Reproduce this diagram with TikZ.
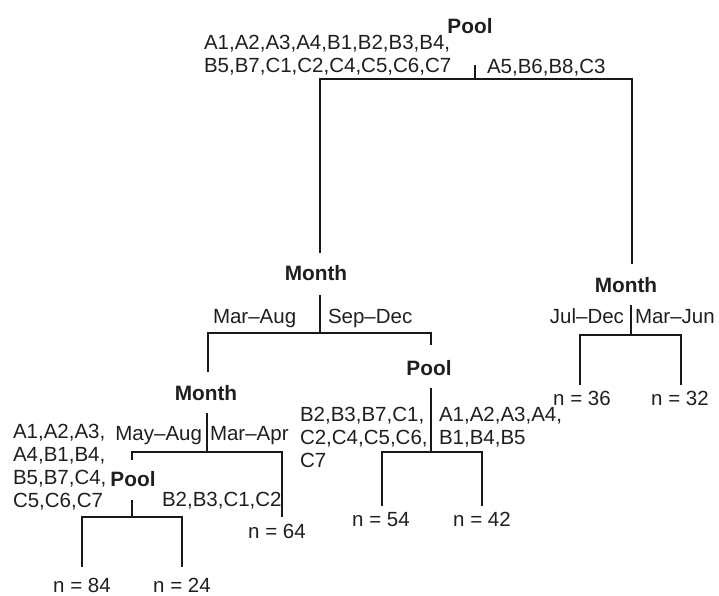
\documentclass[tikz,border=0pt]{standalone}
\usepackage{fontspec}
\setmainfont{Liberation Sans}
\begin{document}
\begin{tikzpicture}[x=1pt,y=-1pt,
  txt/.style={inner sep=0pt,outer sep=0pt,font=\fontsize{20.5}{23}\selectfont,text=black!88},
  bold/.style={txt,font=\fontsize{20.8}{23}\selectfont\bfseries},
  multi/.style={txt,align=left,anchor=north west},
  tree/.style={line width=2.7pt,black!90,line join=miter}]
\useasboundingbox (0,0) rectangle (719,595);

% ---------- root split: Pool ----------
\node[bold,anchor=base] (pool0) at (470,33) {Pool};
\node[multi] (pool0L) at (204,35) {A1,A2,A3,A4,B1,B2,B3,B4,\\B5,B7,C1,C2,C4,C5,C6,C7};
\node[txt,anchor=base west] (pool0R) at (487,73) {A5,B6,B8,C3};
\coordinate (s0a) at (475,65);
\coordinate (s0b) at (475,79);
\coordinate (b0L) at (320,79);
\coordinate (b0R) at (632,79);
\coordinate (c0L) at (320,253);
\coordinate (c0R) at (632,264);
\draw[tree] (s0a) -- (s0b);
\draw[tree] (c0L) -- (b0L) -- (b0R) -- (c0R);

% ---------- Month (left) ----------
\node[bold,anchor=base] (month1) at (316,280) {Month};
\node[txt,anchor=base west] (month1L) at (213,323) {Mar–Aug};
\node[txt,anchor=base west] (month1R) at (328,323) {Sep–Dec};
\coordinate (s1a) at (320,295);
\coordinate (s1b) at (320,333);
\coordinate (b1L) at (208,333);
\coordinate (b1R) at (431,333);
\coordinate (c1L) at (208,372);
\coordinate (c1R) at (431,345);
\draw[tree] (s1a) -- (s1b);
\draw[tree] (c1L) -- (b1L) -- (b1R) -- (c1R);

% ---------- Month (right) ----------
\node[bold,anchor=base] (month2) at (626,292) {Month};
\node[txt,anchor=base east] (month2L) at (624,323) {Jul–Dec};
\node[txt,anchor=base west] (month2R) at (635,323) {Mar–Jun};
\coordinate (s2a) at (631,305);
\coordinate (s2b) at (631,335);
\coordinate (b2L) at (580,335);
\coordinate (b2R) at (681,335);
\coordinate (c2L) at (580,385);
\coordinate (c2R) at (681,385);
\draw[tree] (s2a) -- (s2b);
\draw[tree] (c2L) -- (b2L) -- (b2R) -- (c2R);
\node[txt,anchor=base] (n36) at (582,405) {n = 36};
\node[txt,anchor=base] (n32) at (680,405) {n = 32};

% ---------- Month (left-left) ----------
\node[bold,anchor=base] (month3) at (206,400) {Month};
\node[txt,anchor=base east] (month3L) at (202,440) {May–Aug};
\node[txt,anchor=base west] (month3R) at (210,440) {Mar–Apr};
\node[multi] (month3LL) at (13,424) {A1,A2,A3,\\A4,B1,B4,\\B5,B7,C4,\\C5,C6,C7};
\coordinate (s3a) at (207,413);
\coordinate (s3b) at (207,452);
\coordinate (b3L) at (132,452);
\coordinate (b3R) at (282,452);
\coordinate (c3L) at (132,460);
\coordinate (c3R) at (282,517);
\draw[tree] (s3a) -- (s3b);
\draw[tree] (c3L) -- (b3L) -- (b3R) -- (c3R);
\node[txt,anchor=base] (n64) at (277,538) {n = 64};

% ---------- Pool (bottom left) ----------
\node[bold,anchor=base] (pool4) at (133,486) {Pool};
\node[txt,anchor=base west] (pool4R) at (162,506) {B2,B3,C1,C2};
\coordinate (s4a) at (132,500);
\coordinate (s4b) at (132,517);
\coordinate (b4L) at (82,517);
\coordinate (b4R) at (182,517);
\coordinate (c4L) at (82,567);
\coordinate (c4R) at (182,567);
\draw[tree] (s4a) -- (s4b);
\draw[tree] (c4L) -- (b4L) -- (b4R) -- (c4R);
\node[txt,anchor=base] (n84) at (82,592) {n = 84};
\node[txt,anchor=base] (n24) at (182,592) {n = 24};

% ---------- Pool (middle) ----------
\node[bold,anchor=base] (pool5) at (429,375) {Pool};
\node[multi] (pool5L) at (300,407) {B2,B3,B7,C1,\\C2,C4,C5,C6,\\C7};
\node[multi] (pool5R) at (439,407) {A1,A2,A3,A4,\\B1,B4,B5};
\coordinate (s5a) at (431,388);
\coordinate (s5b) at (431,452);
\coordinate (b5L) at (382,452);
\coordinate (b5R) at (482,452);
\coordinate (c5L) at (382,506);
\coordinate (c5R) at (482,506);
\draw[tree] (s5a) -- (s5b);
\draw[tree] (c5L) -- (b5L) -- (b5R) -- (c5R);
\node[txt,anchor=base] (n54) at (381,526) {n = 54};
\node[txt,anchor=base] (n42) at (482,526) {n = 42};
\end{tikzpicture}
\end{document}
